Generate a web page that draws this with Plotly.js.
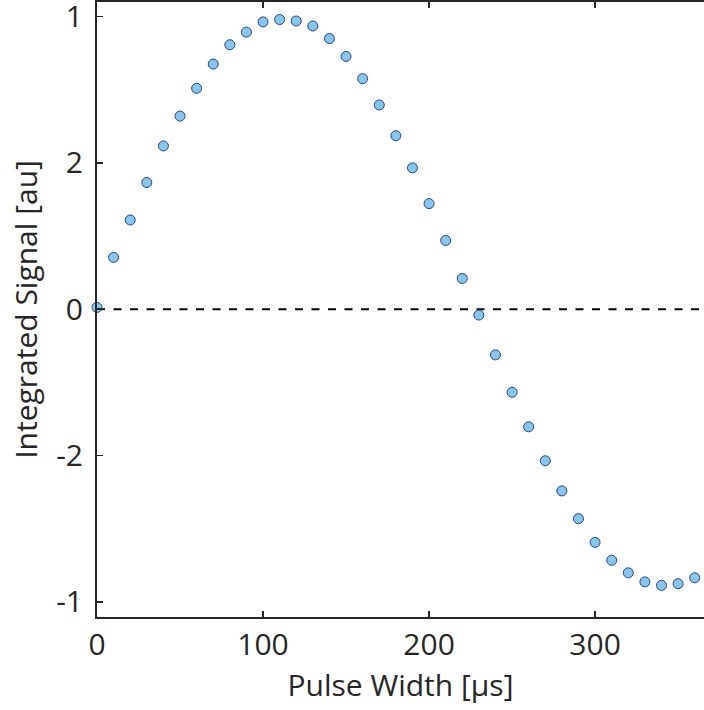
<!DOCTYPE html>
<html>
<head>
<meta charset="utf-8">
<script src="https://cdn.plot.ly/plotly-3.0.1.min.js"></script>
<style>html,body{margin:0;padding:0;background:#fff;}#chart{width:704px;height:710px;}</style>
</head>
<body>
<div id="chart"></div>
<script>
const pulseWidth = [0,10,20,30,40,50,60,70,80,90,100,110,120,130,140,150,160,170,180,190,200,210,220,230,240,250,260,270,280,290,300,310,320,330,340,350,360];
const signal = [0.006,0.177,0.305,0.433,0.558,0.660,0.755,0.838,0.904,0.947,0.982,0.990,0.985,0.968,0.925,0.864,0.788,0.698,0.593,0.483,0.361,0.235,0.105,-0.020,-0.156,-0.284,-0.402,-0.518,-0.621,-0.716,-0.797,-0.858,-0.901,-0.932,-0.944,-0.938,-0.918];
const yTickVals = [-1,-0.5,0,0.5,1];
const yTickText = ["-1","-2","0","2","1"];
const xTickVals = [0,100,200,300];
const xTickText = ["0","100","200","300"];

const fontFam = "'Open Sans', 'Noto Sans', sans-serif";
const txtColor = '#262626';
const fs = 30;

Plotly.newPlot('chart', [{
  x: pulseWidth, y: signal, type: 'scatter', mode: 'markers',
  marker: {size: 10, color: '#85C8EA', line: {color: '#2B3E9C', width: 1}},
  cliponaxis: false, hoverinfo: 'skip'
}], {
  width: 704, height: 710,
  margin: {l: 97, r: 0, t: 2, b: 93, pad: 0},
  paper_bgcolor: '#fff', plot_bgcolor: '#fff',
  showlegend: false,
  font: {family: fontFam, color: txtColor, size: fs},
  xaxis: {
    range: [0, 365.6], showgrid: false, zeroline: false,
    showline: true, linecolor: '#262626', linewidth: 2, mirror: 'ticks',
    ticks: 'inside', ticklen: 6, tickwidth: 1.5, tickcolor: '#262626',
    tickvals: xTickVals, ticktext: xTickText, ticklabeloverflow: 'allow',
    tickfont: {size: fs, family: fontFam, color: txtColor},
    title: {text: 'Pulse Width [μs]', font: {size: fs, family: fontFam, color: txtColor}, standoff: 12}
  },
  yaxis: {
    range: [-1.052, 1.05], showgrid: false, zeroline: false,
    showline: true, linecolor: '#262626', linewidth: 2,
    ticks: 'inside', ticklen: 6, tickwidth: 1.5, tickcolor: '#262626',
    tickvals: yTickVals, ticktext: yTickText, ticklabeloverflow: 'allow',
    ticklabelstandoff: 6,
    tickfont: {size: fs, family: fontFam, color: txtColor},
    title: {text: 'Integrated Signal [au]', font: {size: fs, family: fontFam, color: txtColor}, standoff: 10}
  },
  shapes: [{
    type: 'line', xref: 'paper', yref: 'y', x0: 0, x1: 1, y0: 0, y1: 0,
    line: {color: '#000', width: 2, dash: '8px,8.5px'}, layer: 'below'
  }]
}, {displayModeBar: false, staticPlot: true});
</script>
</body>
</html>
